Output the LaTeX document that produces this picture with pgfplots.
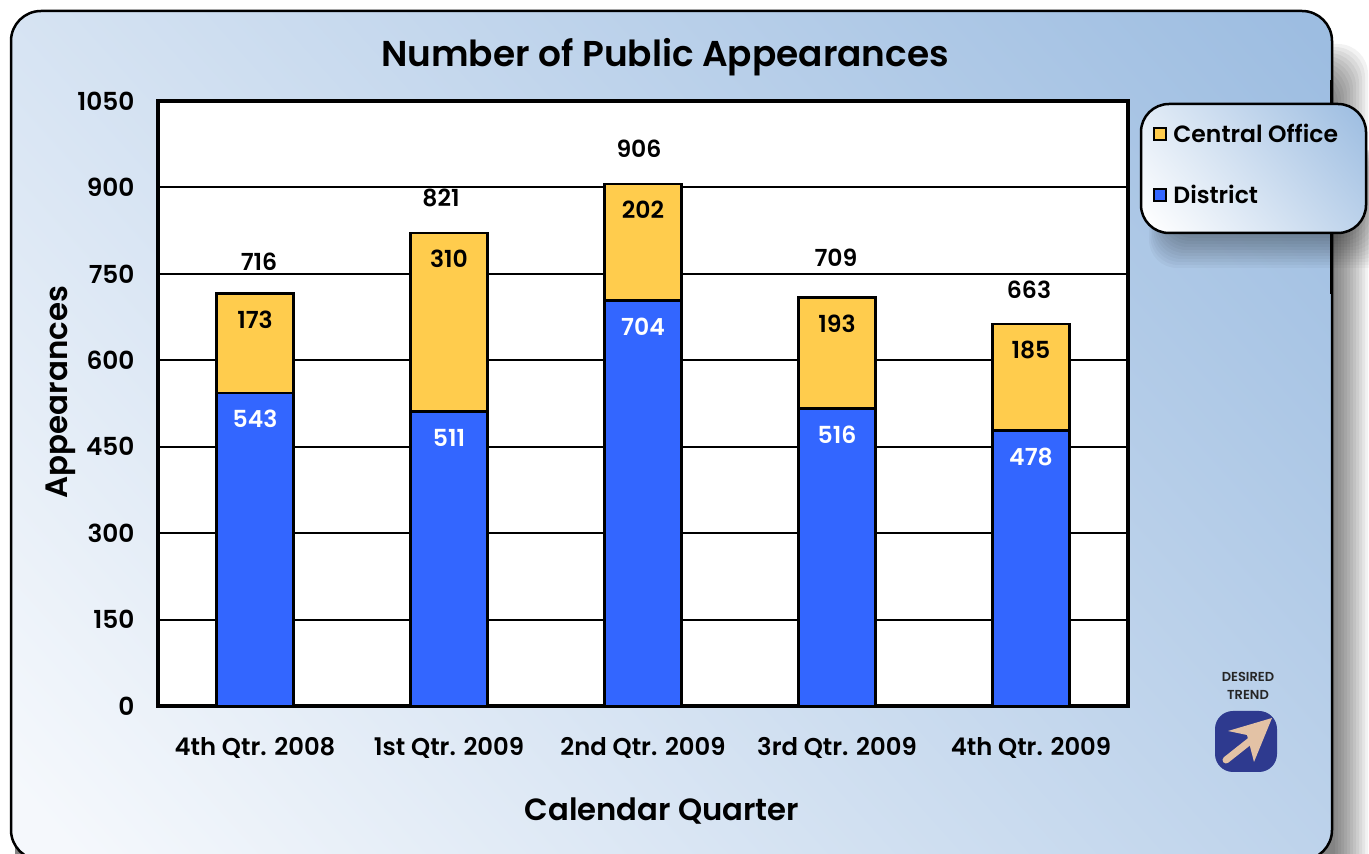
\documentclass[border=0pt]{standalone}
\usepackage{fontspec}
\setmainfont{Poppins}[BoldFont={Poppins SemiBold}]
\usepackage{pgfplots}
\usepackage{pgfplotstable}
\pgfplotsset{compat=1.18}
\definecolor{barblue}{HTML}{3366FF}
\definecolor{baryellow}{HTML}{FFCC4D}
\definecolor{icon}{HTML}{2E3A8F}
\definecolor{arrowc}{HTML}{E3C2A5}
\definecolor{pA}{HTML}{F5F8FC}
\definecolor{pB}{HTML}{9DBDE1}
\definecolor{lA}{HTML}{FFFFFF}
\pgfdeclareverticalshading{panelshade}{100bp}{color(0bp)=(pA); color(17bp)=(pA); color(84bp)=(pB); color(100bp)=(pB)}
\pgfdeclareverticalshading{legendshade}{100bp}{color(0bp)=(lA); color(17bp)=(lA); color(84bp)=(pB); color(100bp)=(pB)}
\pgfplotstableread{
x district central total shift xoff
0 543 173 716 32 4
1 511 310 821 35 -8
2 704 202 906 35 -4
3 516 193 709 40 -1
4 478 185 663 34 -2
}\datatable
\begin{document}
\begin{tikzpicture}
\clip (0,0) rectangle (1369pt,854pt);
\fill[white] (0,0) rectangle (1369pt,854pt);
\begin{scope}[x=1pt,y=-1pt,shift={(0,854pt)}]
\foreach \i in {3,6,...,36} {
  \fill[black,opacity=.05,rounded corners=30pt] (15,80-\i) rectangle (1332+\i,900);
}
\shade[rounded corners=30pt,shading=panelshade,shading angle=-48,draw=none] (11,11) rectangle (1332,860);
\draw[black,line width=2.5pt,rounded corners=30pt] (11,11) rectangle (1332,860);
\draw[black,line width=3.5pt] (1331.5,80)--(1331.5,294);
\foreach \i in {2,5,...,32} {
  \fill[black,opacity=.032,rounded corners=28pt] (1165-\i/2,150) rectangle (1366+\i,236+\i);
}
\shade[rounded corners=28pt,shading=legendshade,shading angle=-50] (1141,104) rectangle (1366,233);
\draw[black,line width=2.5pt,rounded corners=28pt] (1141,104) rectangle (1366,233);
% desired trend icon
\node[align=center,font=\fontsize{13}{18}\selectfont\bfseries,text=black!85] at (1248,686) {DESIRED\\TREND};
\fill[icon,rounded corners=18pt] (1215,711) rectangle (1277,772);
\draw[arrowc,line width=7pt,line cap=round] (1226,760)--(1250,741);
\fill[arrowc] (1272,718)--(1228,731)--(1247,735)--(1254,762)--cycle;
\end{scope}
\begin{axis}[
  at={(158pt,148pt)},anchor=south west,
  scale only axis,width=970pt,height=605pt,
  ybar stacked,bar width=77pt,
  xmin=-0.5,xmax=4.5,ymin=0,ymax=1050,
  xtick=data,
  xticklabels={4th Qtr. 2008,1st Qtr. 2009,2nd Qtr. 2009,3rd Qtr. 2009,4th Qtr. 2009},
  ytick={0,150,...,1050},
  ymajorgrids,
  grid style={black,line width=2pt},
  major tick length=0pt,
  axis line style={black,line width=3.5pt},
  axis background/.style={fill=white},
  /pgf/number format/assume math mode=true,
  /pgf/number format/1000 sep={},
  tick label style={font=\fontsize{24.8}{28}\selectfont\bfseries},
  xticklabel style={yshift=-28pt,font=\fontsize{24.3}{28}\selectfont\bfseries},
  yticklabel style={xshift=-20pt},
  title={Number of Public Appearances},
  title style={at={(axis description cs:0.5227,1.0628)},anchor=center,font=\fontsize{35.9}{40}\selectfont\bfseries},
  xlabel={Calendar Quarter},
  xlabel style={at={(axis description cs:0.5196,-0.1731)},anchor=center,font=\fontsize{30.7}{35}\selectfont\bfseries},
  ylabel={Appearances},
  ylabel style={at={(axis description cs:-0.100,0.519)},anchor=center,font=\fontsize{30.9}{35}\selectfont\bfseries},
  legend image code/.code={\draw[#1,line width=2pt] (0pt,-6pt) rectangle (12pt,6pt);\path (16pt,0pt);},
  reverse legend,
  legend cell align=left,
  legend style={draw=none,fill=none,at={(axis description cs:1.0237,0.9685)},anchor=north west,
    font=\fontsize{23.5}{28}\selectfont\bfseries,row sep=37pt,inner sep=2pt,
    /tikz/every even column/.append style={column sep=0pt}},
  nodes near coords,
  point meta=explicit symbolic,
  every node near coord/.append style={anchor=center,font=\fontsize{23.5}{27}\selectfont\bfseries},
]
\addplot+[draw=black,line width=2.5pt,fill=barblue,
  visualization depends on={\thisrow{district}*0.5762/2-26 \as \lbl},
  every node near coord/.append style={text=white,yshift=\lbl pt}]
  table[x=x,y=district,meta=district] {\datatable};
\addlegendentry{District}
\addplot+[draw=black,line width=2.5pt,fill=baryellow,
  visualization depends on={\thisrow{central}*0.5762/2-26 \as \lbl},
  every node near coord/.append style={text=black,yshift=\lbl pt}]
  table[x=x,y=central,meta=central] {\datatable};
\addlegendentry{Central Office}
\end{axis}
\begin{axis}[
  at={(158pt,148pt)},anchor=south west,
  scale only axis,width=970pt,height=605pt,
  xmin=-0.5,xmax=4.5,ymin=0,ymax=1050,
  hide axis,clip=false,
  visualization depends on={\thisrow{shift} \as \lblshift},
  visualization depends on={\thisrow{xoff} \as \lblx},
  nodes near coords,
  point meta=explicit symbolic,
  every node near coord/.append style={anchor=center,yshift=\lblshift pt,xshift=\lblx pt,text=black,font=\fontsize{23.5}{27}\selectfont\bfseries},
]
\addplot[only marks,mark=none,draw=none] table[x=x,y=total,meta=total] {\datatable};
\end{axis}
\end{tikzpicture}
\end{document}
